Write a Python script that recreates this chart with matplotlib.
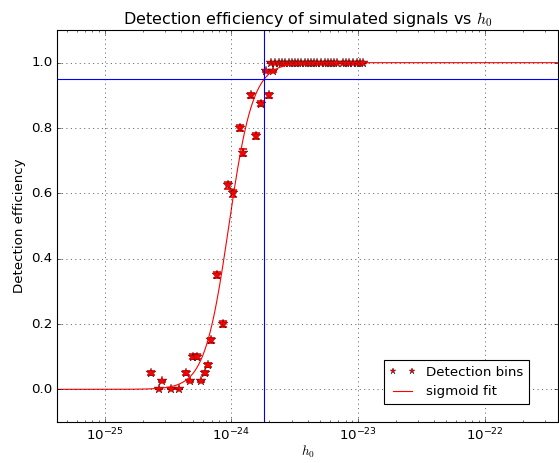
import numpy as np
import matplotlib
matplotlib.use("Agg")
import matplotlib.pyplot as plt
from matplotlib.ticker import NullFormatter

plt.style.use('classic')

# injected h0 bins and measured detection efficiency
h0_bins = [2.34e-25, 2.67e-25, 2.86e-25, 3.31e-25, 3.87e-25, 4.42e-25, 4.70e-25,
           4.94e-25, 5.37e-25, 5.77e-25, 6.21e-25, 6.56e-25, 6.85e-25, 7.73e-25,
           8.52e-25, 9.44e-25, 1.03e-24, 1.17e-24, 1.24e-24, 1.42e-24, 1.58e-24,
           1.71e-24, 1.87e-24, 1.98e-24, 2.12e-24,
           2.05e-24, 2.21e-24, 2.36e-24, 2.51e-24, 2.66e-24, 2.83e-24, 2.99e-24,
           3.16e-24, 3.36e-24, 3.57e-24, 3.79e-24, 4.05e-24, 4.23e-24, 4.52e-24,
           4.77e-24, 5.07e-24, 5.48e-24, 5.82e-24, 6.12e-24, 6.46e-24, 6.86e-24,
           7.57e-24, 8.04e-24, 8.54e-24, 9.08e-24, 9.77e-24, 1.04e-23, 1.10e-23]
efficiency = [0.05, 0.0, 0.025, 0.0, 0.0, 0.05, 0.025,
              0.1, 0.1, 0.025, 0.05, 0.075, 0.15, 0.35,
              0.2, 0.625, 0.6, 0.8, 0.725, 0.9, 0.775,
              0.875, 0.975, 0.9, 0.975,
              1.0, 1.0, 1.0, 1.0, 1.0, 1.0, 1.0,
              1.0, 1.0, 1.0, 1.0, 1.0, 1.0, 1.0,
              1.0, 1.0, 1.0, 1.0, 1.0, 1.0, 1.0,
              1.0, 1.0, 1.0, 1.0, 1.0, 1.0, 1.0]
n_trials = 2000

# sigmoid fit parameters (logistic in log10 h0)
fit_log_h50 = -24.02
fit_slope = 10.5
target_eff = 0.95

h0_bins = np.array(h0_bins)
efficiency = np.array(efficiency)
err = np.sqrt(efficiency * (1 - efficiency) / n_trials)


def sigmoid(h):
    return 1.0 / (1.0 + np.exp(-fit_slope * (np.log10(h) - fit_log_h50)))


h95 = 10 ** (fit_log_h50 + np.log(target_eff / (1 - target_eff)) / fit_slope)

fig = plt.figure(figsize=(559 / 80.0, 463 / 80.0), dpi=80)
ax = fig.add_axes([57 / 559.0, 41 / 463.0, 501 / 559.0, 392 / 463.0])

xlim = (4.2e-26, 3.8e-22)
ax.errorbar(h0_bins, efficiency, yerr=err, fmt='none', ecolor='r',
            capsize=4, capthick=1.5)
ax.plot(h0_bins, efficiency, '*', color='r', mec='k', mew=0.3, markersize=9,
        label='Detection bins')
hh = np.logspace(np.log10(xlim[0]), np.log10(xlim[1]), 500)
ax.plot(hh, sigmoid(hh), 'r-', label='sigmoid fit')
ax.axvline(h95, color='b')
ax.axhline(target_eff, color='b')

ax.set_xscale('log')
ax.set_xlim(xlim)
ax.set_ylim(-0.1, 1.1)
ax.xaxis.set_minor_formatter(NullFormatter())
ax.grid(True)
ax.set_title('Detection efficiency of simulated signals vs $h_0$')
ax.set_xlabel('$h_0$', labelpad=1)
ax.set_ylabel('Detection efficiency')
ax.legend(loc='lower right', bbox_to_anchor=(0.955, 0.03), numpoints=2,
          markerscale=0.7, fontsize=12)

fig.savefig('out.png', dpi=80)
